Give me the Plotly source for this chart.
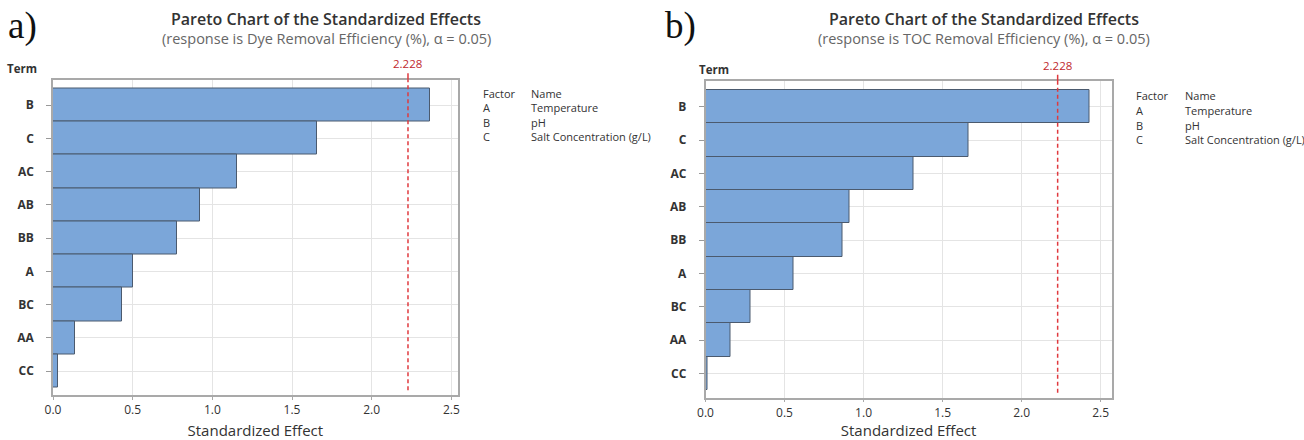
import plotly.graph_objects as go

terms = ["B", "C", "AC", "AB", "BB", "A", "BC", "AA", "CC"]
dye_effects = [2.368, 1.658, 1.156, 0.921, 0.777, 0.500, 0.433, 0.138, 0.029]
toc_effects = [2.429, 1.661, 1.313, 0.913, 0.868, 0.554, 0.286, 0.159, 0.011]
critical_value = 2.228
x_ticks = [0.0, 0.5, 1.0, 1.5, 2.0, 2.5]
factors = ["A", "B", "C"]
factor_names = ["Temperature", "pH", "Salt Concentration (g/L)"]
panel_labels = ["a)", "b)"]
subtitles = ["(response is Dye Removal Efficiency (%), α = 0.05)",
             "(response is TOC Removal Efficiency (%), α = 0.05)"]

FONT = "Open Sans"
W, H = 1304, 440
BAR_FILL = "#7ba6d9"
BAR_LINE = "#4b5a6e"
GRID = "#e4e4e4"
FRAME = "#a9a9a9"
TXT = "#333333"

fig = go.Figure()

panels = [
    dict(vals=dye_effects, xd=[53 / W, 457.7 / W], yd=[1 - 395 / H, 1 - 79.5 / H], xr=[0, 2.54]),
    dict(vals=toc_effects, xd=[705.5 / W, 1111.7 / W], yd=[1 - 397.5 / H, 1 - 81 / H], xr=[0, 2.57]),
]

for i, p in enumerate(panels):
    xa = "x" if i == 0 else "x2"
    ya = "y" if i == 0 else "y2"
    fig.add_trace(go.Bar(
        x=p["vals"], y=terms, orientation="h", xaxis=xa, yaxis=ya,
        marker=dict(color=BAR_FILL, line=dict(color=BAR_LINE, width=1)),
        showlegend=False, hoverinfo="x+y",
    ))
    sfx = "" if i == 0 else "2"
    fig.update_layout(**{
        "xaxis" + sfx: dict(
            domain=p["xd"], range=p["xr"], anchor=ya, tickvals=x_ticks,
            ticktext=[f"{v:.1f}" for v in x_ticks], automargin=False,
            showgrid=True, gridcolor=GRID, gridwidth=1, zeroline=False,
            showline=True, linecolor=FRAME, linewidth=1.5, mirror=True,
            ticks="outside", ticklen=3, tickcolor=FRAME,
            tickfont=dict(family=FONT, size=12, color=TXT),
            title=dict(text="Standardized Effect", font=dict(family=FONT, size=15, color=TXT), standoff=8),
        ),
        "yaxis" + sfx: dict(
            domain=p["yd"], anchor=xa, type="category", range=[8.72, -0.77], automargin=False,
            showgrid=True, gridcolor=GRID, gridwidth=1, zeroline=False,
            showline=True, linecolor=FRAME, linewidth=1.5, mirror=True,
            ticks="outside", ticklen=5, tickcolor="#999999", ticklabelstandoff=10,
            tickfont=dict(family=FONT, size=12, color=TXT, weight="bold"),
        ),
    })
    xref = xa
    yref_dom = ya + " domain"
    fig.add_shape(type="line", xref=xref, yref=yref_dom, x0=critical_value, x1=critical_value,
                  y0=0.015, y1=1, line=dict(color="#e0393e", width=1.5, dash="4px,3px"))
    fig.add_shape(type="line", xref=xref, yref=yref_dom, x0=critical_value, x1=critical_value,
                  y0=1, y1=1.02, line=dict(color="#e0393e", width=1.5))
    fig.add_annotation(x=critical_value, xref=xref, y=1.02, yref=yref_dom, yanchor="bottom",
                       text=f"{critical_value:.3f}", showarrow=False,
                       font=dict(family=FONT, size=11.5, color="#c0282d"))

    # titles
    cx = [326, 984][i]
    fig.add_annotation(x=cx / W, y=1 - 19 / H, xref="paper", yref="paper", xanchor="center", yanchor="middle",
                       text="Pareto Chart of the Standardized Effects", showarrow=False,
                       font=dict(family=FONT, size=16, color=TXT, weight=600))
    fig.add_annotation(x=cx / W, y=1 - 39 / H, xref="paper", yref="paper", xanchor="center", yanchor="middle",
                       text=subtitles[i], showarrow=False,
                       font=dict(family=FONT, size=14.5, color="#666666"))
    # panel label
    lx = [6, 663][i]
    fig.add_annotation(x=lx / W, y=1 - 26 / H, xref="paper", yref="paper", xanchor="left", yanchor="middle",
                       text=panel_labels[i], showarrow=False,
                       font=dict(family="Liberation Serif", size=37, color="#111111"))
    # Term
    tx = [5, 697][i]
    ty = [68, 70][i]
    fig.add_annotation(x=tx / W, y=1 - ty / H, xref="paper", yref="paper", xanchor="left", yanchor="middle",
                       text="Term", showarrow=False,
                       font=dict(family=FONT, size=11.5, color=TXT, weight="bold"))
    # factor legend
    fx = [481, 1134][i]
    nx = [529, 1183][i]
    fy0 = [93, 96][i]
    rows = [("Factor", "Name")] + list(zip(factors, factor_names))
    for r, (f, n) in enumerate(rows):
        yy = 1 - (fy0 + r * 14.5) / H
        fig.add_annotation(x=fx / W, y=yy, xref="paper", yref="paper", xanchor="left", yanchor="middle",
                           text=f, showarrow=False, font=dict(family=FONT, size=11, color=TXT))
        fig.add_annotation(x=nx / W, y=yy, xref="paper", yref="paper", xanchor="left", yanchor="middle",
                           text=n, showarrow=False, font=dict(family=FONT, size=11, color=TXT))

fig.update_layout(
    width=W, height=H, margin=dict(l=0, r=0, t=0, b=0),
    paper_bgcolor="white", plot_bgcolor="white",
    bargap=0, font=dict(family=FONT, color=TXT),
)

fig.write_html("out.html")
